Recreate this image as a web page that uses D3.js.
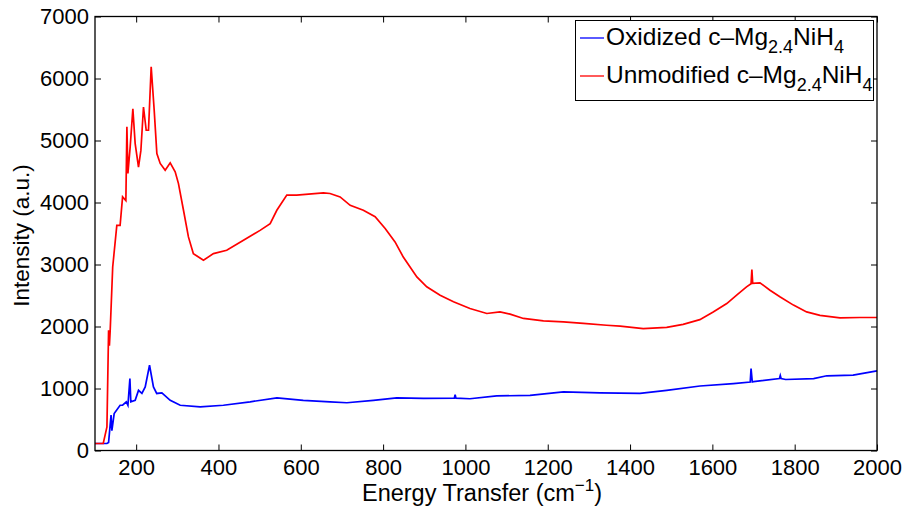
<!DOCTYPE html>
<html>
<head>
<meta charset="utf-8">
<script src="https://cdn.jsdelivr.net/npm/d3@7"></script>
<style>
  body { margin: 0; background: #fff; }
  text { font-family: "Liberation Sans", Arial, sans-serif; fill: #000; }
</style>
</head>
<body>
<div id="chart"></div>
<script>

// unmodified sample (red)
let redX = [100, 120, 129, 133, 135, 137, 143, 153, 161, 167, 175, 177.5, 180, 185.5, 192, 197.6, 205.7, 211.5, 217.8, 224.4, 230, 236.5, 243.8, 250.3, 258.4, 270.5, 282.7, 294.8, 302.8, 315, 327, 339, 363.5, 387.8, 420, 460.7, 501, 525.6, 541.8, 566, 590, 655, 671, 695.5, 720, 752, 780.6, 805, 829, 849, 882, 906, 938.5, 971, 1011, 1052, 1084, 1108.5, 1141, 1189.5, 1238, 1286.5, 1343, 1376, 1432, 1489, 1529, 1569.5, 1602, 1635, 1659, 1683, 1694, 1696, 1698, 1715.6, 1740, 1764, 1797, 1829, 1861.5, 1910, 1958.6, 2000];
let redY = [113, 113, 380, 1940, 1690, 1950, 2960, 3630, 3630, 4090, 4030, 5220, 4470, 4900, 5510, 4950, 4570, 4840, 5540, 5165, 5165, 6190, 5490, 4790, 4630, 4520, 4640, 4495, 4305, 3875, 3445, 3175, 3070, 3175, 3230, 3390, 3550, 3660, 3875, 4120, 4120, 4155, 4145, 4090, 3955, 3875, 3770, 3580, 3365, 3120, 2800, 2640, 2505, 2400, 2290, 2210, 2235, 2200, 2130, 2090, 2075, 2050, 2020, 2005, 1965, 1985, 2035, 2110, 2235, 2370, 2505, 2640, 2690, 2920, 2695, 2705, 2585, 2480, 2345, 2235, 2180, 2140, 2145, 2145];

// oxidized sample (blue)
let blueX = [100, 129, 133, 139, 141, 146.6, 161, 167, 176, 180, 184.8, 187, 197.6, 205.7, 214, 222, 232.5, 242, 250, 262.5, 282.7, 307, 355.5, 412, 477, 542, 606, 671, 712, 776.5, 833, 898, 973, 975, 977, 1011, 1076, 1157, 1238, 1327, 1424, 1489, 1570, 1651, 1692, 1694, 1697, 1700, 1763, 1765, 1767, 1778, 1846, 1878, 1942, 2000];
let blueY = [113, 113, 130, 570, 320, 595, 730, 730, 785, 730, 1160, 785, 810, 970, 920, 1025, 1375, 1025, 920, 930, 810, 730, 705, 730, 785, 850, 810, 785, 770, 810, 850, 840, 845, 900, 845, 835, 880, 890, 945, 930, 920, 970, 1040, 1080, 1105, 1320, 1105, 1110, 1160, 1210, 1160, 1145, 1160, 1205, 1215, 1285];

let xTicks = [200, 400, 600, 800, 1000, 1200, 1400, 1600, 1800, 2000];
let yTicks = [0, 1000, 2000, 3000, 4000, 5000, 6000, 7000];

let w = 907;
let h = 512;
let m = {top: 16.5, right: 30, bottom: 61.5, left: 95};

let svg = d3.select("#chart")
    .append("svg")
    .attr("width", w)
    .attr("height", h);

let x = d3.scaleLinear().domain([100, 2000]).range([m.left, w - m.right]);
let y = d3.scaleLinear().domain([0, 7000]).range([h - m.bottom, m.top]);

// axes, ticks pointing inward on all four sides
let tk = 6;
let fmt = d3.format("d");
let gx = svg.append("g")
    .attr("transform", `translate(0,${h - m.bottom})`)
    .call(d3.axisBottom(x).tickValues(xTicks).tickFormat(fmt).tickSizeInner(-tk).tickSizeOuter(0).tickPadding(9));
let gx2 = svg.append("g")
    .attr("transform", `translate(0,${m.top})`)
    .call(d3.axisTop(x).tickValues(xTicks).tickSizeInner(-tk).tickSizeOuter(0).tickFormat(""));
let gy = svg.append("g")
    .attr("transform", `translate(${m.left},0)`)
    .call(d3.axisLeft(y).tickValues(yTicks).tickFormat(fmt).tickSizeInner(-tk).tickSizeOuter(0).tickPadding(6));
let gy2 = svg.append("g")
    .attr("transform", `translate(${w - m.right},0)`)
    .call(d3.axisRight(y).tickValues(yTicks).tickSizeInner(-tk).tickSizeOuter(0).tickFormat(""));

[gx, gx2, gy, gy2].forEach((g) => {
    g.select(".domain").remove();
    g.selectAll("line").attr("stroke", "#000").attr("stroke-width", 1);
    g.selectAll("text").style("font-size", "22px").attr("font-family", null);
});
gx.selectAll("text").attr("dy", "0.71em");

// lines
let line = d3.line()
    .x((d) => x(d[0]))
    .y((d) => y(d[1]));

svg.append("path")
    .datum(blueX.map((v, i) => [v, blueY[i]]))
    .attr("fill", "none")
    .attr("stroke", "#0000ff")
    .attr("stroke-width", 1.7)
    .attr("d", line);

svg.append("path")
    .datum(redX.map((v, i) => [v, redY[i]]))
    .attr("fill", "none")
    .attr("stroke", "#ff0000")
    .attr("stroke-width", 1.7)
    .attr("d", line);

// frame
svg.append("rect")
    .attr("x", m.left)
    .attr("y", m.top)
    .attr("width", w - m.right - m.left)
    .attr("height", h - m.bottom - m.top)
    .attr("fill", "none")
    .attr("stroke", "#000")
    .attr("stroke-width", 1.3);

// axis labels
let xl = svg.append("text")
    .attr("x", 482)
    .attr("y", 501)
    .attr("text-anchor", "middle")
    .style("font-size", "23.5px");
xl.append("tspan").text("Energy Transfer (cm");
xl.append("tspan").attr("dy", -10).style("font-size", "17px").text("\u22121");
xl.append("tspan").attr("dy", 10).text(")");

svg.append("text")
    .attr("transform", `translate(29,${(m.top + h - m.bottom) / 2 + 2}) rotate(-90)`)
    .attr("text-anchor", "middle")
    .style("font-size", "22.5px")
    .text("Intensity (a.u.)");

// legend
let legend = svg.append("g");
legend.append("rect")
    .attr("x", 575.5).attr("y", 20.5)
    .attr("width", 298).attr("height", 80)
    .attr("fill", "#fff")
    .attr("stroke", "#000")
    .attr("stroke-width", 1);

let names = [["Oxidized c\u2013Mg", "#0000ff"], ["Unmodified c\u2013Mg", "#ff0000"]];
names.forEach((n, i) => {
    let yy = 45 + i * 38;
    legend.append("line")
        .attr("x1", 580).attr("x2", 604)
        .attr("y1", yy - 7).attr("y2", yy - 7)
        .attr("stroke", n[1]).attr("stroke-width", 1.3);
    let t = legend.append("text")
        .attr("x", 606).attr("y", yy)
        .style("font-size", "24.5px");
    t.append("tspan").text(n[0]);
    t.append("tspan").attr("dy", 8).style("font-size", "18px").text("2.4");
    t.append("tspan").attr("dy", -8).text("NiH");
    t.append("tspan").attr("dy", 8).style("font-size", "18px").text("4");
});

</script>
</body>
</html>
